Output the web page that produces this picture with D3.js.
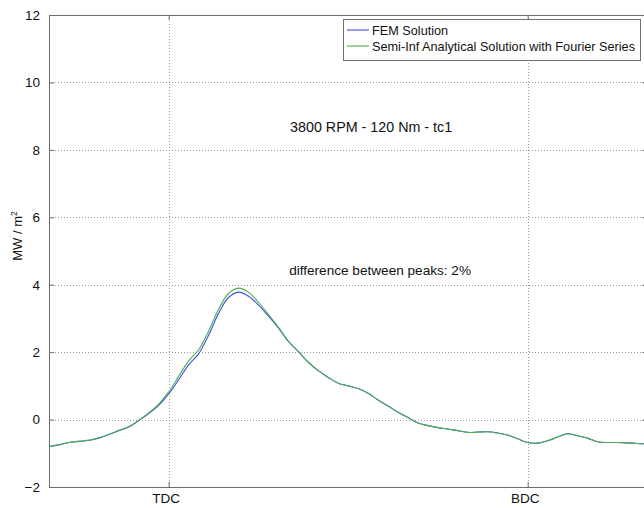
<!DOCTYPE html>
<html>
<head>
<meta charset="utf-8">
<script src="https://cdn.jsdelivr.net/npm/d3@7/dist/d3.min.js"></script>
<style>
  html, body { margin: 0; padding: 0; background: #fff; }
  svg { display: block; font-family: "Liberation Sans", Arial, sans-serif; }
</style>
</head>
<body>
<svg id="chart" width="644" height="508"></svg>
<script>
// Crank angle (deg), heat flux (MW/m^2)
const angle = [300,305,310,315,320,325,330,335,340,345,350,355,360,365,370,375,380,385,390,395,
               400,405,410,415,420,425,430,435,440,445,450,455,460,465,470,475,480,485,490,495,
               500,505,510,515,520,525,530,535,540,545,550,555,560,565,570,575,580,585,590,595,600];
const femSolution = [-0.80,-0.75,-0.68,-0.65,-0.62,-0.55,-0.44,-0.33,-0.22,-0.03,0.18,0.42,0.76,1.18,1.62,1.95,2.50,3.15,3.62,3.78,
                     3.66,3.40,3.07,2.72,2.32,2.02,1.70,1.45,1.25,1.08,1.00,0.92,0.78,0.58,0.40,0.22,0.06,-0.10,-0.18,-0.24,
                     -0.28,-0.33,-0.38,-0.37,-0.36,-0.40,-0.46,-0.57,-0.68,-0.70,-0.63,-0.52,-0.42,-0.48,-0.55,-0.66,-0.68,-0.68,-0.69,-0.71,-0.72];
const fourierSolution = [-0.80,-0.74,-0.68,-0.64,-0.61,-0.54,-0.44,-0.32,-0.21,-0.02,0.20,0.46,0.82,1.28,1.74,2.07,2.62,3.27,3.74,3.90,
                         3.78,3.48,3.12,2.74,2.33,2.02,1.70,1.45,1.25,1.08,1.00,0.92,0.78,0.58,0.40,0.22,0.06,-0.10,-0.18,-0.24,
                         -0.28,-0.33,-0.38,-0.37,-0.36,-0.40,-0.46,-0.57,-0.68,-0.70,-0.63,-0.52,-0.42,-0.48,-0.55,-0.66,-0.68,-0.68,-0.69,-0.71,-0.72];
const yTicks = [-2,0,2,4,6,8,10,12];
const xTickValues = [360,540];
const xTickLabels = ["TDC","BDC"];
const seriesNames = ["FEM Solution","Semi-Inf Analytical Solution with Fourier Series"];
const seriesColors = ["#3f4fe0","#4fb04f"];

const svg = d3.select("#chart");
const plotLeft = 49, plotTop = 15, plotBottom = 487;
const pxPerDeg = 359 / 180;
const plotRight = plotLeft + (600 - 300) * pxPerDeg;

const x = d3.scaleLinear().domain([300,600]).range([plotLeft,plotRight]);
const y = d3.scaleLinear().domain([-2,12]).range([plotBottom,plotTop]);

// dotted grid
const grid = svg.append("g").attr("stroke","#9a9a9a").attr("stroke-width",1).attr("stroke-dasharray","1,2");
grid.selectAll("line.gy").data(yTicks.filter(t => t > -2 && t < 12)).join("line")
  .attr("x1",plotLeft).attr("x2",plotRight)
  .attr("y1",d => Math.round(y(d))+0.5).attr("y2",d => Math.round(y(d))+0.5);
grid.selectAll("line.gx").data(xTickValues).join("line")
  .attr("y1",plotTop).attr("y2",plotBottom)
  .attr("x1",d => Math.round(x(d))+0.5).attr("x2",d => Math.round(x(d))+0.5);

// curves
const line = d3.line().curve(d3.curveCatmullRom.alpha(0.5))
  .x((d,i) => x(angle[i])).y(d => y(d));
[femSolution, fourierSolution].forEach((s,k) => {
  svg.append("path").datum(s).attr("d",line)
    .attr("fill","none").attr("stroke",seriesColors[k]).attr("stroke-width",1.1);
});

// axes with inward ticks
const axisColor = "#6e6e6e";
const yAxis = svg.append("g").attr("transform",`translate(${plotLeft},0)`)
  .call(d3.axisLeft(y).tickValues(yTicks).tickSizeInner(-5).tickSizeOuter(0).tickPadding(9).tickFormat(d3.format("d")));
const xAxis = svg.append("g").attr("transform",`translate(0,${plotBottom})`)
  .call(d3.axisBottom(x).tickValues(xTickValues).tickSizeInner(-5).tickSizeOuter(0).tickPadding(6)
        .tickFormat((d,i) => xTickLabels[i]));
const xTop = svg.append("g").attr("transform",`translate(0,${plotTop})`)
  .call(d3.axisTop(x).tickValues(xTickValues).tickSizeInner(-5).tickSizeOuter(0).tickFormat(""));
const yRight = svg.append("g").attr("transform",`translate(${plotRight},0)`)
  .call(d3.axisRight(y).tickValues(yTicks).tickSizeInner(-5).tickSizeOuter(0).tickFormat(""));
[yAxis,xAxis,xTop,yRight].forEach(g => {
  g.selectAll("path,line").attr("stroke",axisColor);
  g.selectAll("text").attr("fill","#111").style("font-size","13.5px").style("font-family","Liberation Sans, Arial, sans-serif");
});
xAxis.selectAll("text").attr("dx","-3");

// y label
svg.append("text").attr("transform","translate(22,236) rotate(-90)")
  .attr("text-anchor","middle").attr("fill","#111").style("font-size","13px")
  .html('MW / m<tspan dy="-5" font-size="8.5">2</tspan>');

// annotations
svg.append("text").attr("x",x(461.5)).attr("y",132).attr("text-anchor","middle")
  .attr("fill","#111").style("font-size","14.3px").text("3800 RPM - 120 Nm - tc1");
svg.append("text").attr("x",x(466)).attr("y",275).attr("text-anchor","middle")
  .attr("fill","#111").style("font-size","13.6px").text("difference between peaks: 2%");

// legend
const lg = svg.append("g");
lg.append("rect").attr("x",343.5).attr("y",19.5).attr("width",297).attr("height",41)
  .attr("fill","#fff").attr("stroke",axisColor);
seriesNames.forEach((n,i) => {
  lg.append("line").attr("x1",347).attr("x2",369).attr("y1",30+i*16).attr("y2",30+i*16)
    .attr("stroke",seriesColors[i]).attr("stroke-width",1.1);
  lg.append("text").attr("x",372).attr("y",35+i*16).attr("fill","#111")
    .style("font-size","12.7px").text(n);
});
</script>
</body>
</html>
